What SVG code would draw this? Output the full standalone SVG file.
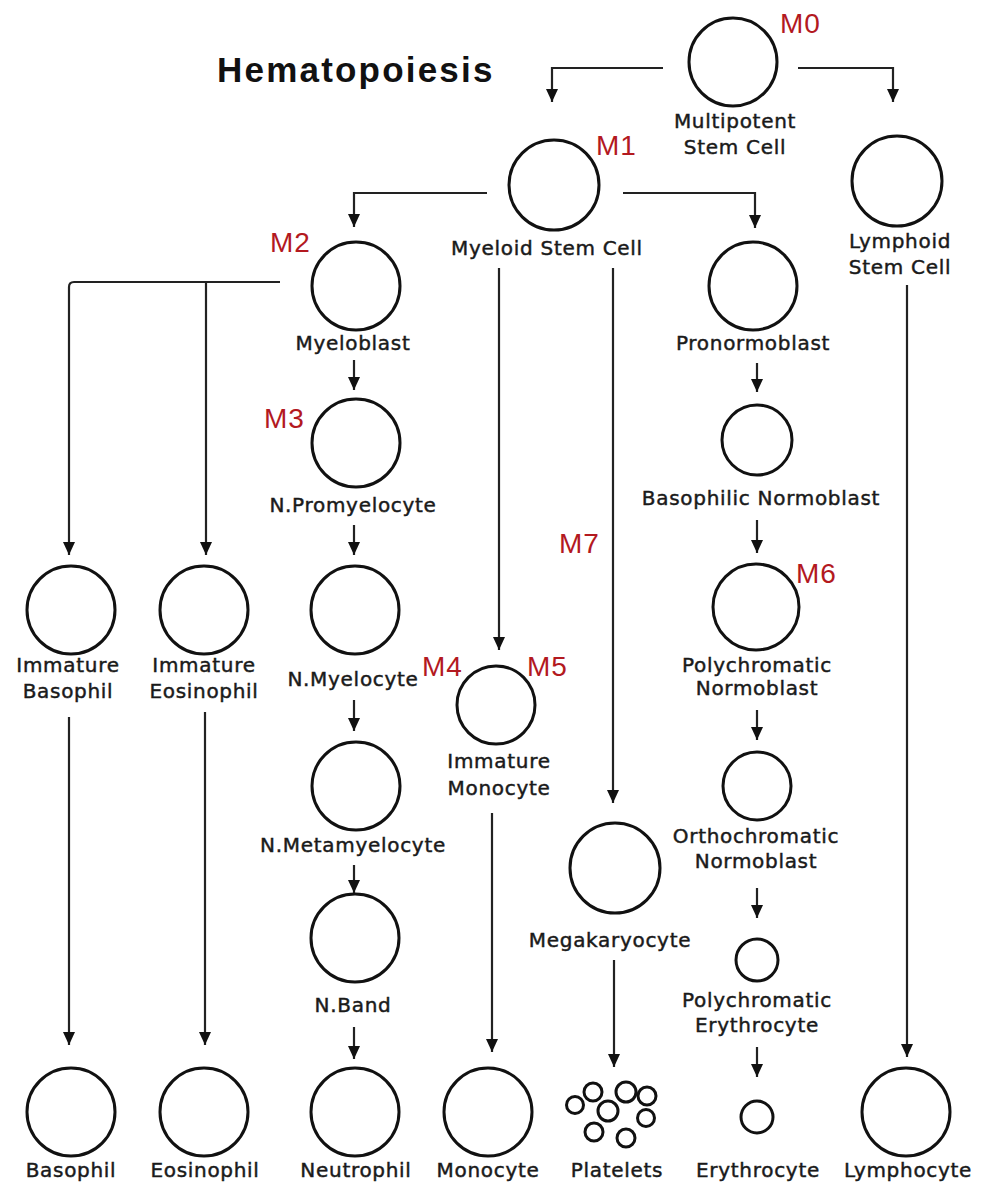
<svg xmlns="http://www.w3.org/2000/svg" width="986" height="1184" viewBox="0 0 986 1184">
<style>
.c{fill:none;stroke:#111;stroke-width:3}
.l{font-family:"DejaVu Sans",Verdana,sans-serif;font-size:20px;letter-spacing:0.7px;fill:#1a1a1a;stroke:#1a1a1a;stroke-width:0.45px;text-anchor:middle}
.m{font-family:"Liberation Sans",Arial,sans-serif;font-size:28px;letter-spacing:1px;fill:#b3191f}
.k{fill:none;stroke:#222;stroke-width:2.2}
.t{font-family:"Liberation Sans",Arial,sans-serif;font-size:35px;font-weight:bold;letter-spacing:2.2px;fill:#111}
</style>
<defs>
<marker id="ah" viewBox="0 0 13 12" refX="13" refY="6" markerWidth="13" markerHeight="12" markerUnits="userSpaceOnUse" orient="auto"><path d="M0,0 L13,6 L0,12 z" fill="#111"/></marker>
</defs>
<rect width="986" height="1184" fill="#fff"/>
<text class="t" x="217" y="82">Hematopoiesis</text>

<g id="connectors" class="k" marker-end="url(#ah)">
<path d="M663,68 H552 V102"/>
<path d="M798,68 H893 V102"/>
<path d="M487,193 H354 V227"/>
<path d="M623,193 H755 V228"/>
<path d="M499,268 V650"/>
<path d="M613,268 V803"/>
<path d="M280,282 H74 Q69,282 69,287 V555"/>
<path d="M206,282 V555"/>
<path d="M354,360 V390"/>
<path d="M354,525 V555"/>
<path d="M354,700 V731"/>
<path d="M354,865 V893"/>
<path d="M354,1027 V1059"/>
<path d="M69,717 V1045"/>
<path d="M205,712 V1045"/>
<path d="M492,813 V1052"/>
<path d="M614,960 V1067"/>
<path d="M757,363 V392"/>
<path d="M757,520 V553"/>
<path d="M757,710 V740"/>
<path d="M757,888 V918"/>
<path d="M757,1047 V1077"/>
<path d="M907,285 V1057"/>
</g>

<g id="multipotent">
<circle class="c" cx="733" cy="62" r="44"/>
<text class="m" x="780" y="33">M0</text>
<text class="l" x="735" y="128">Multipotent</text>
<text class="l" x="735" y="154">Stem Cell</text>
</g>
<g id="myeloid">
<circle class="c" cx="554" cy="185" r="45"/>
<text class="m" x="596" y="155">M1</text>
<text class="l" x="547" y="255">Myeloid Stem Cell</text>
</g>
<g id="lymphoid">
<circle class="c" cx="897" cy="181" r="45"/>
<text class="l" x="900" y="248">Lymphoid</text>
<text class="l" x="900" y="274">Stem Cell</text>
</g>
<g id="myeloblast">
<circle class="c" cx="356" cy="286" r="44"/>
<text class="m" x="270" y="252">M2</text>
<text class="l" x="353" y="350">Myeloblast</text>
</g>
<g id="promyelocyte">
<circle class="c" cx="356" cy="443" r="44"/>
<text class="m" x="264" y="428">M3</text>
<text class="l" x="353" y="512">N.Promyelocyte</text>
</g>
<g id="myelocyte">
<circle class="c" cx="355" cy="610" r="44"/>
<text class="l" x="353" y="686">N.Myelocyte</text>
</g>
<g id="metamyelocyte">
<circle class="c" cx="356" cy="786" r="44"/>
<text class="l" x="353" y="852">N.Metamyelocyte</text>
</g>
<g id="band">
<circle class="c" cx="355" cy="938" r="44"/>
<text class="l" x="353" y="1012">N.Band</text>
</g>
<g id="immature-basophil">
<circle class="c" cx="71" cy="610" r="44"/>
<text class="l" x="68" y="672">Immature</text>
<text class="l" x="68" y="698">Basophil</text>
</g>
<g id="immature-eosinophil">
<circle class="c" cx="204" cy="610" r="44"/>
<text class="l" x="204" y="672">Immature</text>
<text class="l" x="204" y="698">Eosinophil</text>
</g>
<g id="immature-monocyte">
<circle class="c" cx="496" cy="705" r="39"/>
<text class="m" x="422" y="676">M4</text>
<text class="m" x="527" y="676">M5</text>
<text class="l" x="499" y="768">Immature</text>
<text class="l" x="499" y="795">Monocyte</text>
</g>
<g id="megakaryocyte">
<circle class="c" cx="615" cy="868" r="45"/>
<text class="m" x="559" y="553">M7</text>
<text class="l" x="610" y="947">Megakaryocyte</text>
</g>
<g id="pronormoblast">
<circle class="c" cx="753" cy="286" r="44"/>
<text class="l" x="753" y="350">Pronormoblast</text>
</g>
<g id="basophilic-normoblast">
<circle class="c" cx="757" cy="440" r="35"/>
<text class="l" x="761" y="505">Basophilic Normoblast</text>
</g>
<g id="polychromatic-normoblast">
<circle class="c" cx="756" cy="607" r="43"/>
<text class="m" x="796" y="583">M6</text>
<text class="l" x="757" y="672">Polychromatic</text>
<text class="l" x="757" y="695">Normoblast</text>
</g>
<g id="orthochromatic-normoblast">
<circle class="c" cx="757" cy="786" r="34"/>
<text class="l" x="756" y="843">Orthochromatic</text>
<text class="l" x="756" y="868">Normoblast</text>
</g>
<g id="polychromatic-erythrocyte">
<circle class="c" cx="757" cy="960" r="21"/>
<text class="l" x="757" y="1007">Polychromatic</text>
<text class="l" x="757" y="1032">Erythrocyte</text>
</g>
<g id="basophil">
<circle class="c" cx="71" cy="1112" r="44"/>
<text class="l" x="71" y="1177">Basophil</text>
</g>
<g id="eosinophil">
<circle class="c" cx="204" cy="1112" r="44"/>
<text class="l" x="205" y="1177">Eosinophil</text>
</g>
<g id="neutrophil">
<circle class="c" cx="355" cy="1112" r="44"/>
<text class="l" x="356" y="1177">Neutrophil</text>
</g>
<g id="monocyte">
<circle class="c" cx="488" cy="1112" r="44"/>
<text class="l" x="488" y="1177">Monocyte</text>
</g>
<g id="platelets">
<g class="c">
<circle cx="575" cy="1105" r="8.5"/>
<circle cx="593" cy="1092" r="9"/>
<circle cx="626" cy="1092" r="10"/>
<circle cx="647" cy="1096" r="9"/>
<circle cx="608" cy="1111" r="10"/>
<circle cx="646" cy="1118" r="8.5"/>
<circle cx="594" cy="1132" r="9"/>
<circle cx="626" cy="1138" r="9"/>
</g>
<text class="l" x="617" y="1177">Platelets</text>
</g>
<g id="erythrocyte">
<circle class="c" cx="757" cy="1117" r="16"/>
<text class="l" x="758" y="1177">Erythrocyte</text>
</g>
<g id="lymphocyte">
<circle class="c" cx="906" cy="1112" r="44"/>
<text class="l" x="908" y="1177">Lymphocyte</text>
</g>
</svg>
